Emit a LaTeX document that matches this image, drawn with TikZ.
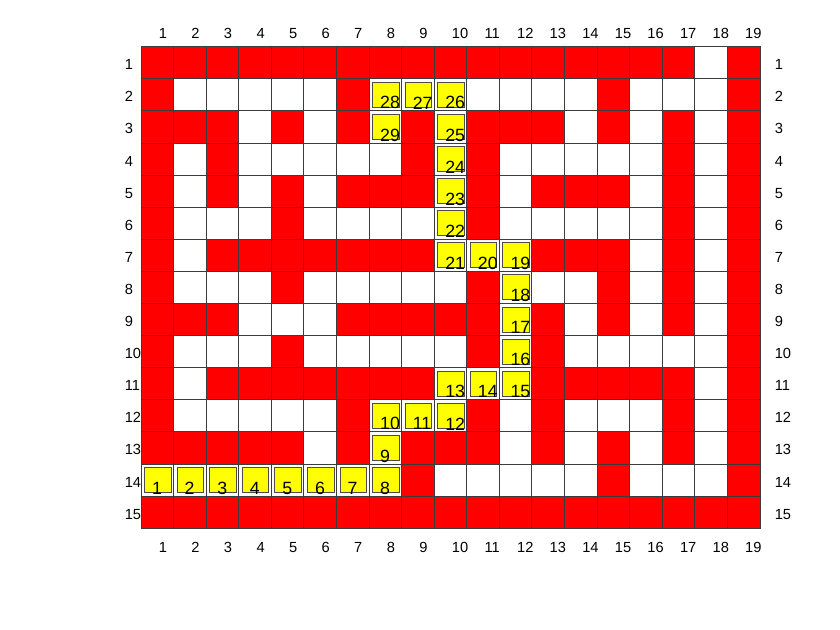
\documentclass[tikz,border=0pt]{standalone}
\usepackage{fontspec}
\setmainfont{Liberation Sans}
\definecolor{wallred}{RGB}{255,0,0}
\definecolor{trackyellow}{RGB}{255,255,0}
\definecolor{gridgray}{RGB}{60,60,60}
\usepackage{xcolor}
\usepackage{tikz}
\usetikzlibrary{positioning}

\begin{document}
\begin{tikzpicture}[x=24.435pt,y=-24.075pt,
      cell/.style={draw=gridgray,line width=0.7pt,fill=white},
      wall/.style={cell,fill=wallred},
      trk/.style={draw=black!70,fill=trackyellow,line width=0.6pt},
      num/.style={anchor=west,inner sep=0pt,font=\fontsize{13.3}{15}\selectfont},
      tick/.style={anchor=west,inner sep=0pt,font=\fontsize{11}{13}\selectfont}]
  \useasboundingbox (-105.75pt,35.025pt) rectangle (524.25pt,-437.475pt);
  \foreach \r in {1,...,15}
    \foreach \c in {1,...,19}
      \draw[cell] (\c-1,\r-1) rectangle (\c,\r);
  \foreach \r/\cl in {1/{1,...,17,19}, 2/{1,7,15,19},
      3/{1,2,3,5,7,9,11,12,13,15,17,19}, 4/{1,3,9,11,17,19},
      5/{1,3,5,7,8,9,11,13,14,15,17,19}, 6/{1,5,11,17,19},
      7/{1,3,4,5,6,7,8,9,13,14,15,17,19}, 8/{1,5,11,15,17,19},
      9/{1,2,3,7,8,9,10,11,13,15,17,19}, 10/{1,5,11,13,19},
      11/{1,3,4,5,6,7,8,9,13,14,15,16,17,19}, 12/{1,7,11,13,17,19},
      13/{1,2,3,4,5,7,9,10,11,13,15,17,19}, 14/{9,15,19},
      15/{1,...,19}}
    \foreach \c in \cl
      \draw[wall] (\c-1,\r-1) rectangle (\c,\r);
  \foreach \n/\c/\r in {1/1/14,2/2/14,3/3/14,4/4/14,5/5/14,6/6/14,7/7/14,
      8/8/14,9/8/13,10/8/12,11/9/12,12/10/12,13/10/11,14/11/11,15/12/11,
      16/12/10,17/12/9,18/12/8,19/12/7,20/11/7,21/10/7,22/10/6,23/10/5,
      24/10/4,25/10/3,26/10/2,27/9/2,28/8/2,29/8/3} {
    \draw[trk] (\c-0.893,\r-0.891) rectangle (\c-0.077,\r-0.115);
    \node[num] (s\n) at (\c-0.666,\r-0.25) {\n};
  }
  \foreach \c in {1,...,19} {
    \node[tick] (top\c) at (\c-0.463,-0.417) {\c};
    \node[tick] (bot\c) at (\c-0.463,15.59) {\c};
  }
  \foreach \r in {1,...,15} {
    \node[tick] (lft\r) at (-0.506,\r-0.438) {\r};
    \node[tick] (rgt\r) at (19.444,\r-0.438) {\r};
  }
\end{tikzpicture}
\end{document}
